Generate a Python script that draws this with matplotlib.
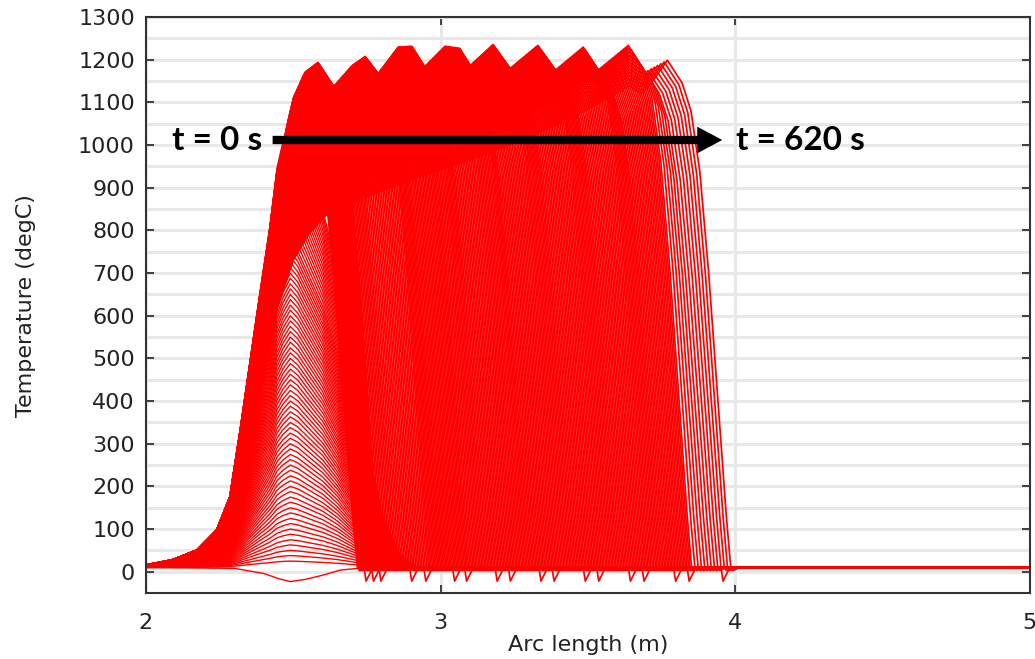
import numpy as np
import matplotlib
matplotlib.use("Agg")
import matplotlib.pyplot as plt
from matplotlib.ticker import MultipleLocator

# upper outline of the profiles (sawtooth crest), arc length (m) / temperature (degC)
top_x = [2.50, 2.54, 2.584, 2.635, 2.70, 2.744, 2.788, 2.856, 2.903, 2.94, 3.015, 3.066,
         3.09, 3.178, 3.236, 3.33, 3.39, 3.484, 3.535, 3.637, 3.694, 3.77]
top_T = [1110, 1171, 1194, 1136, 1187, 1208, 1168, 1230, 1232, 1180, 1232, 1227,
         1180, 1236, 1180, 1234, 1176, 1230, 1176, 1234, 1171, 1199]

# lower edge of the dense band (what is left behind the heat source)
floor_x = [2.50, 2.55, 2.61, 2.70, 2.89, 3.10, 3.27, 3.45, 3.58, 3.64, 3.68, 3.72, 3.77]
floor_T = [730, 790, 835, 865, 917, 965, 1010, 1065, 1115, 1140, 1120, 1150, 1199]

# left flank of the hottest profile
left_x = [2.00, 2.09, 2.173, 2.24, 2.285, 2.32, 2.353, 2.387, 2.42, 2.445, 2.465, 2.485, 2.50]
left_T = [16, 28, 51, 98, 176, 332, 489, 650, 801, 940, 1000, 1065, 1110]

# teeth of the crest: trough and peak positions
tooth_trough = [2.50, 2.635, 2.788, 2.94, 3.09, 3.236, 3.39, 3.535, 3.694]
tooth_peak = [2.584, 2.744, 2.88, 3.03, 3.178, 3.33, 3.484, 3.637, 3.77]
tooth_curves = [30, 30, 30, 30, 30, 30, 30, 30, 12]

# fall ahead of the peak (distance from peak, fraction of peak rise)
leg_dx = [0.0, 0.05, 0.08, 0.11, 0.14, 0.17, 0.20, 0.215]
leg_frac = [1.0, 0.955, 0.90, 0.78, 0.58, 0.34, 0.10, 0.0]

# early heating at the start point
early_T = [15, 28, 40, 53, 65, 78, 90, 103, 115, 128, 140, 153, 165, 178, 190, 203,
           215, 228, 240, 253, 265, 278, 290, 303, 315, 328, 340, 353, 365, 378, 390,
           403, 415, 428, 440, 453, 465, 478, 490, 503, 515, 528, 540, 553, 565, 578,
           590, 603, 615, 628, 640, 653, 665, 678, 690, 703, 715, 728, 740, 753, 765,
           780, 795, 810, 825, 840, 855, 870, 885, 900, 915, 930, 945, 960, 975, 990,
           1005, 1020, 1035, 1050]
early_x = [2.465, 2.49, 2.515, 2.55, 2.60, 2.65, 2.70, 2.75, 2.80, 2.86, 2.92]
early_frac = [0.95, 1.0, 0.97, 0.9, 0.8, 0.66, 0.48, 0.28, 0.12, 0.03, 0.0]

# undershoot of the first profile
dip_x = [2.0, 2.3, 2.4, 2.45, 2.49, 2.54, 2.6, 2.66, 2.75, 5.0]
dip_T = [10, 8, -4, -16, -23, -18, -8, 4, 10, 10]

T_amb = 10
RED = "#ff0000"

fig = plt.figure(figsize=(10.35, 6.59), dpi=100)
ax = fig.add_axes([0.141, 0.100, 0.854, 0.874])

ax.plot(dip_x, dip_T, color=RED, lw=1.0)

# left flank shape, normalised
lx = np.array(left_x[:-1])
lshape = (np.array(left_T[:-1]) - T_amb) / (left_T[-1] - T_amb)
T_at_start = np.interp(early_x[0], left_x, left_T)
for h in early_T:
    sx = lx[lx < early_x[0]]
    st = T_amb + early_frac[0] * h * (np.interp(sx, left_x, left_T) - T_amb) / (T_at_start - T_amb)
    xs = np.concatenate([sx, early_x, [5.0]])
    ts = np.concatenate([st, [T_amb + h * f for f in early_frac], [T_amb]])
    ax.plot(xs, ts, color=RED, lw=1.0)

xp_last = tooth_peak[-1]
tooth_start = [2.50] + tooth_peak[:-1]
for st0, tr, hi, n in zip(tooth_start, tooth_trough, tooth_peak, tooth_curves):
    for k, xp in enumerate(np.linspace(st0, hi, n + 1)[1:]):
        extra = [v for v in top_x + floor_x if 2.5 < v < xp]
        xs = np.union1d(np.linspace(2.5, xp, 150), extra)
        lowv = np.interp(xs, floor_x, floor_T)
        upv = np.interp(xs, top_x, top_T)
        span = xp_last - xs
        frac = np.where(span > 1e-9, (xp_last - xp) / np.maximum(span, 1e-9), 1.0)
        trail = lowv + (upv - lowv) * np.clip(frac, 0, 1)
        pk = trail[-1]
        lt = T_amb + (trail[0] - T_amb) * lshape
        gx = xp + np.array(leg_dx[1:])
        gt = T_amb + (pk - T_amb) * np.array(leg_frac[1:])
        dip = -22 if (xp >= tr and k % 9 == 8) else 3
        X = np.concatenate([lx, xs, gx, [xp + 0.222, xp + 0.245, 5.0]])
        Y = np.concatenate([lt, trail, gt, [dip, T_amb, T_amb]])
        ax.plot(X, Y, color=RED, lw=1.25)

ax.set_xlim(2, 5)
ax.set_ylim(-50, 1300)
ax.set_xticks([2, 3, 4, 5])
ax.set_yticks(np.arange(0, 1301, 100))
ax.yaxis.set_minor_locator(MultipleLocator(50))
ax.set_axisbelow(True)
ax.grid(True, which="major", color="#e8e8e8", lw=2.2)
ax.grid(True, which="minor", axis="y", color="#e8e8e8", lw=2.2)
ax.tick_params(which="major", direction="in", top=True, right=True, length=6,
               width=1.2, labelsize=16, colors="#222222")
ax.tick_params(axis="x", pad=14)
ax.tick_params(axis="y", pad=8)
ax.tick_params(which="minor", length=0)
for s in ax.spines.values():
    s.set_color("#333333")
    s.set_linewidth(1.5)

ax.set_xlabel("Arc length (m)", fontsize=16, color="#222222", labelpad=2)
ax.set_ylabel("Temperature (degC)", fontsize=16, color="#222222", labelpad=30)

ax.annotate("", xy=(3.956, 1012), xytext=(2.43, 1012),
            arrowprops=dict(arrowstyle="simple,head_length=0.75,head_width=0.8,tail_width=0.25",
                            color="black", lw=0, mutation_scale=24, shrinkA=0, shrinkB=0))
ax.text(2.24, 1012, "t = 0 s", fontsize=24, fontweight="bold", family="Lato",
        ha="center", va="center")
ax.text(4.22, 1012, "t = 620 s", fontsize=24, fontweight="bold", family="Lato",
        ha="center", va="center")

fig.savefig("out.png", dpi=100)
